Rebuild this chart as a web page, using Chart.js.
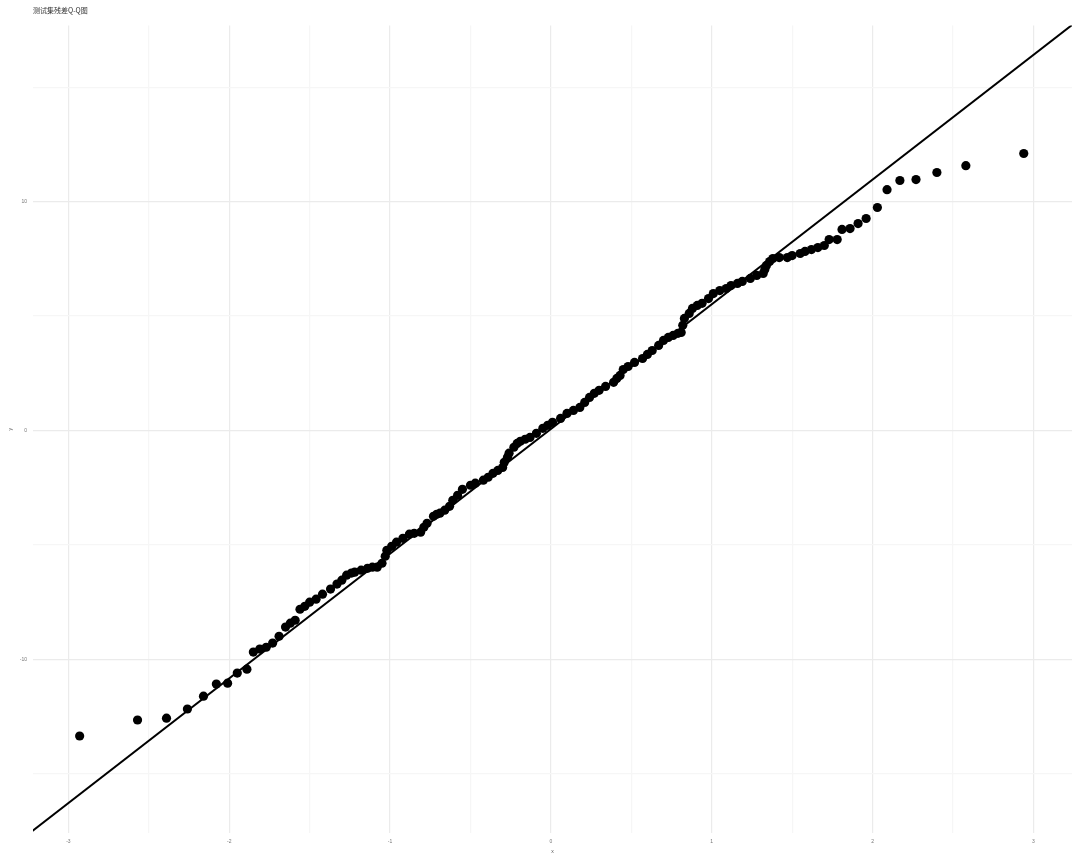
<!DOCTYPE html>
<html>
<head>
<meta charset="utf-8">
<script src="https://cdn.jsdelivr.net/npm/chart.js@4.4.1/dist/chart.umd.min.js"></script>
<style>
  html, body { margin: 0; padding: 0; background: #fff; }
  #wrap { width: 1080px; height: 864px; }
</style>
</head>
<body>
<div id="wrap"><canvas id="qqChart"></canvas></div>
<script>
// theoretical quantiles (x) and sample quantiles (y)
const qqX = [
  -2.93, -2.57, -2.39, -2.26, -2.16, -2.08, -2.01, -1.95, -1.89, -1.85,
  -1.81, -1.77, -1.73, -1.69, -1.65, -1.62, -1.59, -1.56, -1.53, -1.50,
  -1.46, -1.42, -1.37, -1.33, -1.30, -1.27, -1.24, -1.22, -1.18, -1.14,
  -1.11, -1.08, -1.05, -1.03, -1.02, -0.99, -0.96, -0.92, -0.88, -0.85,
  -0.81, -0.79, -0.77, -0.73, -0.71, -0.69, -0.66, -0.63, -0.61, -0.58,
  -0.55, -0.50, -0.47, -0.42, -0.39, -0.36, -0.33, -0.30, -0.29, -0.27,
  -0.26, -0.23, -0.21, -0.19, -0.16, -0.13, -0.09, -0.05, -0.02, 0.01,
  0.06, 0.10, 0.14, 0.18, 0.21, 0.24, 0.27, 0.30, 0.34, 0.39,
  0.41, 0.43, 0.45, 0.48, 0.52, 0.57, 0.60, 0.63, 0.67, 0.70,
  0.73, 0.76, 0.79, 0.81, 0.82, 0.83, 0.86, 0.88, 0.91, 0.94,
  0.98, 1.01, 1.05, 1.09, 1.12, 1.16, 1.19, 1.24, 1.28, 1.32,
  1.33, 1.34, 1.36, 1.38, 1.42, 1.47, 1.50, 1.55, 1.58, 1.62,
  1.66, 1.70, 1.73, 1.78, 1.81, 1.86, 1.91, 1.96, 2.03, 2.09,
  2.17, 2.27, 2.40, 2.58, 2.94
];
const qqY = [
  -13.36, -12.66, -12.58, -12.18, -11.62, -11.09, -11.05, -10.61, -10.44, -9.69,
  -9.56, -9.48, -9.30, -9.00, -8.60, -8.43, -8.30, -7.82, -7.69, -7.51,
  -7.38, -7.16, -6.94, -6.72, -6.55, -6.33, -6.24, -6.20, -6.11, -6.03,
  -5.98, -5.98, -5.81, -5.50, -5.24, -5.07, -4.89, -4.72, -4.54, -4.50,
  -4.45, -4.24, -4.06, -3.76, -3.67, -3.62, -3.49, -3.32, -3.06, -2.84,
  -2.58, -2.40, -2.31, -2.18, -2.05, -1.88, -1.75, -1.62, -1.40, -1.18,
  -1.00, -0.74, -0.57, -0.48, -0.39, -0.31, -0.13, 0.09, 0.22, 0.35,
  0.52, 0.74, 0.87, 1.00, 1.22, 1.44, 1.62, 1.75, 1.92, 2.10,
  2.27, 2.40, 2.66, 2.79, 2.97, 3.14, 3.32, 3.49, 3.71, 3.93,
  4.06, 4.15, 4.24, 4.28, 4.59, 4.89, 5.11, 5.33, 5.46, 5.55,
  5.76, 5.98, 6.11, 6.20, 6.33, 6.42, 6.51, 6.64, 6.77, 6.86,
  7.03, 7.21, 7.38, 7.51, 7.55, 7.55, 7.64, 7.73, 7.82, 7.90,
  7.99, 8.08, 8.34, 8.34, 8.78, 8.82, 9.04, 9.26, 9.74, 10.52,
  10.92, 10.96, 11.27, 11.57, 12.10
];

// reference line end points
const lineX = [-3.4, 3.4];
const lineY = [-18.47, 18.59];

const xTicks = [-3, -2, -1, 0, 1, 2, 3];
const yTicks = [-10, 0, 10];

const gridMajor = '#ebebeb';
const gridMinor = '#f6f6f6';

const ctx = document.getElementById('qqChart');

new Chart(ctx, {
  type: 'scatter',
  data: {
    datasets: [
      {
        label: 'points',
        data: qqX.map((x, i) => ({ x: x, y: qqY[i] })),
        backgroundColor: '#000',
        borderColor: '#000',
        pointRadius: 4.6,
        pointHoverRadius: 4.6,
        borderWidth: 0,
        order: 2
      },
      {
        type: 'line',
        label: 'line',
        data: lineX.map((x, i) => ({ x: x, y: lineY[i] })),
        borderColor: '#000',
        borderWidth: 2,
        pointRadius: 0,
        showLine: true,
        fill: false,
        order: 1
      }
    ]
  },
  options: {
    responsive: true,
    maintainAspectRatio: false,
    animation: false,
    layout: {
      padding: { left: 0, right: 8, top: 0, bottom: 0 }
    },
    plugins: {
      legend: { display: false },
      tooltip: { enabled: false },
      title: {
        display: true,
        text: '测试集残差Q-Q图',
        align: 'start',
        fullSize: false,
        color: '#333',
        font: { family: "'Noto Sans CJK SC', 'Noto Sans', sans-serif", size: 7, weight: 'normal' },
        padding: { top: 6, bottom: 11 }
      }
    },
    scales: {
      x: {
        type: 'linear',
        min: -3.22,
        max: 3.24,
        border: { display: false },
        grid: {
          drawTicks: false,
          lineWidth: 1.2,
          color: (c) => (c.tick && Number.isInteger(c.tick.value)) ? gridMajor : gridMinor
        },
        ticks: {
          stepSize: 0.5,
          includeBounds: false,
          autoSkip: false,
          maxRotation: 0,
          padding: 6,
          color: '#777',
          font: { family: 'Liberation Sans', size: 5 },
          callback: (v) => xTicks.includes(v) ? String(v) : ''
        },
        title: {
          display: true,
          text: 'x',
          color: '#555',
          font: { family: 'Liberation Sans', size: 5 },
          padding: { top: 4, bottom: 9 }
        },
        afterFit: (s) => { s.height = 31; }
      },
      y: {
        type: 'linear',
        min: -17.6,
        max: 17.7,
        border: { display: false },
        grid: {
          drawTicks: false,
          lineWidth: 1.2,
          color: (c) => (c.tick && c.tick.value % 10 === 0) ? gridMajor : gridMinor
        },
        ticks: {
          stepSize: 5,
          includeBounds: false,
          autoSkip: false,
          padding: 6,
          color: '#777',
          font: { family: 'Liberation Sans', size: 5 },
          callback: (v) => yTicks.includes(v) ? String(v) : ''
        },
        title: {
          display: true,
          text: 'y',
          color: '#555',
          font: { family: 'Liberation Sans', size: 5 },
          padding: { top: 8, bottom: 4 }
        },
        afterFit: (s) => { s.width = 33; }
      }
    }
  }
});
</script>
</body>
</html>
